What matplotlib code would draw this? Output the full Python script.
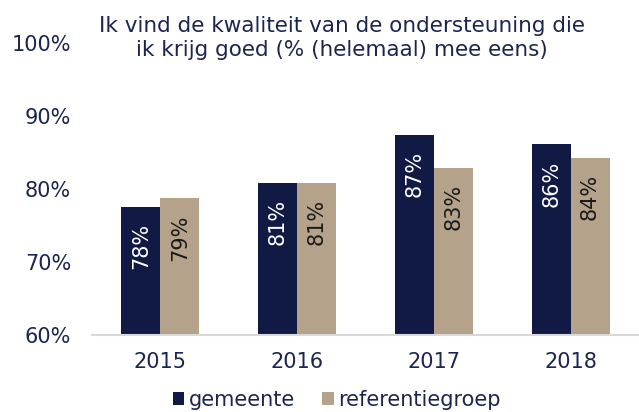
import matplotlib
matplotlib.use("Agg")
import matplotlib.pyplot as plt
from matplotlib.patches import Patch
import numpy as np

plt.rcParams['font.family'] = ['DejaVu Sans']

years = ["2015", "2016", "2017", "2018"]
gemeente = [77.6, 80.8, 87.4, 86.1]
referentiegroep = [78.7, 80.8, 82.9, 84.3]
gemeente_labels = ["78%", "81%", "87%", "86%"]
referentie_labels = ["79%", "81%", "83%", "84%"]
yticks = [60, 70, 80, 90, 100]
title = "Ik vind de kwaliteit van de ondersteuning die\nik krijg goed (% (helemaal) mee eens)"

navy = "#111A44"
tan = "#B4A28A"
textc = "#1C2550"

fig = plt.figure(figsize=(6.39, 4.12), dpi=100)
ax = fig.add_axes([92/639, (412-335)/412, 1 - 92/639, (335-43)/412])

x = np.arange(len(years))
w = 0.285
ax.bar(x - w/2, [v - 60 for v in gemeente], w, bottom=60, color=navy)
ax.bar(x + w/2, [v - 60 for v in referentiegroep], w, bottom=60, color=tan)

for i in range(len(years)):
    ax.annotate(gemeente_labels[i], (x[i] - w/2, gemeente[i]), xytext=(0, -11.5),
                textcoords="offset points", rotation=90, ha="center", va="top",
                color="white", fontsize=15)
    ax.annotate(referentie_labels[i], (x[i] + w/2, referentiegroep[i]), xytext=(0, -11.5),
                textcoords="offset points", rotation=90, ha="center", va="top",
                color="#1a1a1a", fontsize=15)

ax.set_xlim(-0.5, len(years) - 0.5)
ax.set_ylim(60, 100)
ax.set_yticks(yticks)
ax.set_yticklabels([f"{t}%" for t in yticks])
ax.set_xticks(x)
ax.set_xticklabels(years)
ax.tick_params(axis="y", length=0, pad=15, labelsize=15, labelcolor=textc)
ax.tick_params(axis="x", length=0, pad=12, labelsize=15, labelcolor=textc)
for s in ["left", "right", "top"]:
    ax.spines[s].set_visible(False)
ax.spines["bottom"].set_color("#D9D9D9")
ax.spines["bottom"].set_linewidth(1.5)

fig.text(342/639, 1 - 15.5/412, title, ha="center", va="top", fontsize=15.5,
         color=textc, linespacing=1.3)

handles = [Patch(facecolor=navy, edgecolor="none", label="gemeente"),
           Patch(facecolor=tan, edgecolor="none", label="referentiegroep")]
leg = fig.legend(handles=handles, loc="center", bbox_to_anchor=(337/639, 1 - 400/412),
                 ncol=2, frameon=False, fontsize=15, handlelength=0.55, handleheight=0.55,
                 handletextpad=0.22, columnspacing=1.3, borderpad=0, borderaxespad=0)
for t in leg.get_texts():
    t.set_color(textc)

fig.savefig("out.png", dpi=100)
